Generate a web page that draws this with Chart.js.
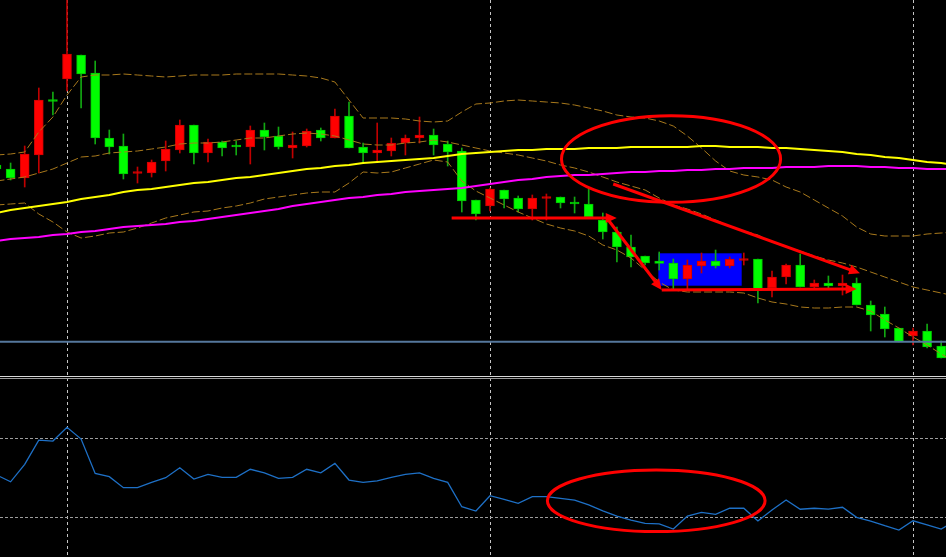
<!DOCTYPE html>
<html>
<head>
<meta charset="utf-8">
<script src="https://cdn.jsdelivr.net/npm/chart.js@4.4.0/dist/chart.umd.min.js"></script>
<style>
  html, body { margin: 0; padding: 0; background: #000; overflow: hidden; }
  canvas { display: block; }
</style>
</head>
<body>
<canvas id="chart" width="946" height="557"></canvas>
<script>
// bar numbers (0 = bar under the first vertical grid line)
const bars = [-5, -4, -3, -2, -1, 0, 1, 2, 3, 4, 5, 6, 7, 8, 9, 10, 11, 12, 13, 14,
  15, 16, 17, 18, 19, 20, 21, 22, 23, 24, 25, 26, 27, 28, 29, 30, 31, 32, 33, 34,
  35, 36, 37, 38, 39, 40, 41, 42, 43, 44, 45, 46, 47, 48, 49, 50, 51, 52, 53, 54,
  55, 56, 57, 58, 59, 60, 61, 62, 63];

// candles (bars -5 .. 62)
const opens = [1.2835, 1.2831, 1.2822, 1.2845, 1.28995, 1.2921, 1.2945, 1.2927, 1.2862, 1.2854,
  1.28265, 1.2827, 1.2839, 1.2850, 1.2875, 1.2847, 1.2858, 1.2854, 1.2853, 1.2870,
  1.2864, 1.2852, 1.2854, 1.2870, 1.2862, 1.2884, 1.2853, 1.2847, 1.2849, 1.2857,
  1.2862, 1.2865, 1.2856, 1.2849, 1.2800, 1.2794, 1.2810, 1.2802, 1.2791, 1.28015,
  1.2803, 1.27975, 1.2796, 1.2780, 1.2768, 1.2753, 1.2744, 1.2739, 1.2737, 1.2721,
  1.2734, 1.2739, 1.2734, 1.27395, 1.2741, 1.2712, 1.2723, 1.2735, 1.2713, 1.2717,
  1.2714, 1.2717, 1.2695, 1.2686, 1.2672, 1.2664, 1.2669, 1.2654];
const highs = [1.2838, 1.2837, 1.2854, 1.2912, 1.2908, 1.3005, 1.2945, 1.2939, 1.2870, 1.2866,
  1.2833, 1.2840, 1.2859, 1.2880, 1.2875, 1.2861, 1.2859, 1.2859, 1.2874, 1.2877,
  1.2873, 1.2868, 1.2871, 1.2872, 1.2891, 1.2898, 1.2857, 1.2877, 1.2862, 1.2865,
  1.2883, 1.2871, 1.2859, 1.2852, 1.2800, 1.2812, 1.2810, 1.2804, 1.2805, 1.2806,
  1.2803, 1.2803, 1.2811, 1.2787, 1.2773, 1.2765, 1.2744, 1.2748, 1.2741, 1.2740,
  1.2747, 1.2750, 1.2743, 1.2747, 1.2741, 1.2729, 1.2736, 1.2746, 1.2720, 1.2724,
  1.2725, 1.2722, 1.2699, 1.2693, 1.2672, 1.2672, 1.2676, 1.2659];
const lows = [1.2828, 1.2820, 1.2813, 1.2827, 1.2885, 1.2909, 1.2892, 1.2856, 1.2846, 1.2821,
  1.2817, 1.2823, 1.2829, 1.2847, 1.2836, 1.2838, 1.2844, 1.2845, 1.2836, 1.2850,
  1.2851, 1.2842, 1.2853, 1.2859, 1.2862, 1.2852, 1.2838, 1.2838, 1.2844, 1.2845,
  1.2857, 1.2845, 1.2834, 1.2788, 1.2780, 1.2789, 1.2792, 1.2788, 1.2780, 1.2780,
  1.2792, 1.2787, 1.2782, 1.2761, 1.2738, 1.2733, 1.2735, 1.2730, 1.2711, 1.2711,
  1.2727, 1.2732, 1.2732, 1.2735, 1.2697, 1.2703, 1.2716, 1.2713, 1.2712, 1.2712,
  1.2705, 1.2695, 1.2669, 1.2663, 1.2658, 1.2655, 1.2652, 1.2642];
const closes = [1.2831, 1.2822, 1.2846, 1.2900, 1.28985, 1.2946, 1.2926, 1.2862, 1.2853, 1.2826,
  1.28275, 1.2838, 1.2851, 1.2875, 1.2847, 1.2858, 1.2852, 1.2853, 1.2870, 1.2863,
  1.2853, 1.2855, 1.2869, 1.2862, 1.2884, 1.2852, 1.2847, 1.2850, 1.2857, 1.2862,
  1.2865, 1.2855, 1.2848, 1.2799, 1.2786, 1.2811, 1.2801, 1.2791, 1.2802, 1.28025,
  1.2797, 1.2796, 1.2783, 1.2768, 1.2753, 1.2743, 1.2737, 1.27365, 1.2721, 1.2735,
  1.2739, 1.2734, 1.2741, 1.27405, 1.2711, 1.2723, 1.2735, 1.2713, 1.2717, 1.2714,
  1.2717, 1.2695, 1.2685, 1.2671, 1.2658, 1.2669, 1.2653, 1.2642];

// bollinger bands (bars -5 .. 63)
const upperBand = [1.2845, 1.2846, 1.2848, 1.2868, 1.2883, 1.2905, 1.2923, 1.2925, 1.2925, 1.2926,
  1.2925, 1.2924, 1.2923, 1.2924, 1.2925, 1.2925, 1.2925, 1.2926, 1.2926, 1.2926,
  1.2926, 1.2925, 1.2924, 1.2922, 1.2918, 1.2900, 1.2882, 1.2882, 1.2882, 1.2881,
  1.2879, 1.2878, 1.2879, 1.2888, 1.2896, 1.2897, 1.2899, 1.2900, 1.2899, 1.2898,
  1.2897, 1.2895, 1.2892, 1.2889, 1.2885, 1.2883, 1.2882, 1.2879, 1.2874, 1.2864,
  1.2852, 1.2839, 1.2829, 1.2825, 1.2823, 1.2820, 1.2813, 1.2808, 1.2800, 1.2792,
  1.2784, 1.2773, 1.2766, 1.2764, 1.2764, 1.2764, 1.2766, 1.2767, 1.2768];
const middleBand = [1.2819, 1.2821, 1.2823, 1.2827, 1.2831, 1.2837, 1.2843, 1.2844, 1.2847, 1.2848,
  1.2849, 1.2851, 1.2853, 1.2856, 1.2857, 1.2857, 1.2858, 1.2860, 1.2862, 1.2862,
  1.2864, 1.2866, 1.2867, 1.2866, 1.2864, 1.2860, 1.2856, 1.2855, 1.2855, 1.2857,
  1.2858, 1.2860, 1.2858, 1.2855, 1.2852, 1.2849, 1.2847, 1.2845, 1.2842, 1.2839,
  1.2835, 1.2832, 1.2828, 1.2823, 1.2818, 1.2814, 1.2810, 1.2802, 1.2795, 1.2791,
  1.2786, 1.2780, 1.2774, 1.2769, 1.2765, 1.2758, 1.2753, 1.2749, 1.2744, 1.2740,
  1.2737, 1.2733, 1.2728, 1.2723, 1.2718, 1.2713, 1.2710, 1.2707, 1.2704];
const lowerBand = [1.2795, 1.2796, 1.2797, 1.2786, 1.2778, 1.2768, 1.2762, 1.2764, 1.2767, 1.2768,
  1.2772, 1.2777, 1.2782, 1.2785, 1.2788, 1.2789, 1.2792, 1.2794, 1.2797, 1.2801,
  1.2803, 1.2805, 1.2807, 1.2808, 1.2808, 1.2817, 1.2828, 1.2827, 1.2828, 1.2832,
  1.2836, 1.2840, 1.2838, 1.2819, 1.2809, 1.2802, 1.2795, 1.2788, 1.2782, 1.2776,
  1.2772, 1.2769, 1.2764, 1.2755, 1.2750, 1.2742, 1.2730, 1.2718, 1.2710, 1.2708,
  1.2708, 1.2708, 1.2708, 1.2707, 1.2702, 1.2698, 1.2696, 1.2693, 1.2692, 1.2692,
  1.2693, 1.2693, 1.2689, 1.2680, 1.2672, 1.2663, 1.2655, 1.2646, 1.2638];

// moving averages
const maYellow = [1.2787, 1.2790, 1.2792, 1.2794, 1.2796, 1.2798, 1.2801, 1.2803, 1.2805, 1.2808,
  1.2810, 1.2811, 1.2813, 1.2815, 1.2817, 1.2818, 1.2820, 1.2822, 1.2823, 1.2825,
  1.2827, 1.2829, 1.2831, 1.2832, 1.2834, 1.2835, 1.2837, 1.2838, 1.2839, 1.2840,
  1.2841, 1.2842, 1.2844, 1.2846, 1.2847, 1.2848, 1.2849, 1.2850, 1.2850, 1.2851,
  1.2851, 1.2851, 1.2852, 1.2852, 1.2852, 1.2853, 1.2853, 1.2853, 1.2853, 1.2853,
  1.2854, 1.2854, 1.2853, 1.2853, 1.2853, 1.2852, 1.2852, 1.2851, 1.2850, 1.2849,
  1.2848, 1.2846, 1.2845, 1.2843, 1.2842, 1.2840, 1.2838, 1.2837, 1.2835];
const maMagenta = [1.2759, 1.2761, 1.2762, 1.2763, 1.2765, 1.2766, 1.2768, 1.2769, 1.2771, 1.2773,
  1.2774, 1.2775, 1.2776, 1.2778, 1.2779, 1.2781, 1.2783, 1.2785, 1.2787, 1.2789,
  1.2791, 1.2794, 1.2796, 1.2798, 1.2800, 1.2802, 1.2803, 1.2805, 1.2806, 1.2808,
  1.2809, 1.2810, 1.2811, 1.2812, 1.2814, 1.2816, 1.2818, 1.2820, 1.2821, 1.2823,
  1.2824, 1.2825, 1.2825, 1.2826, 1.2827, 1.2828, 1.2828, 1.2829, 1.2829, 1.2830,
  1.2830, 1.2831, 1.2831, 1.2832, 1.2832, 1.2832, 1.2833, 1.2833, 1.2833, 1.2834,
  1.2834, 1.2834, 1.2833, 1.2833, 1.2832, 1.2832, 1.2831, 1.2831, 1.2831];

// oscillator in the lower window
const rsi = [51.3, 47.8, 56.7, 69.1, 68.6, 75.6, 69.6, 52.1, 50.4, 44.8,
  44.8, 47.5, 49.9, 55.0, 49.2, 51.6, 50.1, 50.1, 54.2, 52.4,
  49.6, 50.1, 54.2, 52.4, 57.2, 48.7, 47.5, 48.3, 50.1, 51.6,
  52.4, 49.6, 47.5, 35.1, 32.9, 40.7, 38.9, 36.8, 40.2, 40.2,
  39.4, 38.5, 36.0, 33.0, 30.3, 28.3, 26.6, 26.3, 23.7, 30.3,
  32.2, 31.2, 34.3, 34.3, 27.8, 33.4, 38.5, 33.8, 34.3, 33.9,
  34.8, 29.7, 27.8, 25.4, 23.2, 27.9, 25.8, 23.7, 27.8];
const rsiLevels = [70, 30];

const supportLevel = 1.26583;
const gridBars = [0, 30, 60];

// hand drawn objects, in bar / price units
const ovals = [
  { axis: 'y', x: 42.84, y: 1.2841, rx: 7.77, ry: 0.00433 },
  { axis: 'y2', x: 41.79, y: 38.1, rx: 7.72, ry: 15.7 }
];
const arrows = [
  [27.28, 1.2782, 38.99, 1.2782],
  [38.39, 1.2780, 42.18, 1.2710],
  [42.18, 1.2710, 56.00, 1.2711],
  [38.74, 1.2816, 56.24, 1.27267]
];
const boxes = [[41.94, 1.27467, 47.85, 1.27143]];

const candleBars = bars.slice(0, opens.length);
const isDown = i => closes[i] < opens[i];
const pts = vals => vals.map((v, i) => ({ x: bars[i], y: v }));

const bandColor = '#a8791c';
const panelSplit = 376;

const overlay = {
  id: 'overlay',
  beforeDatasetsDraw(chart) {
    const { ctx, chartArea, scales: { x, y, y2 } } = chart;
    ctx.save();
    // vertical grid
    ctx.lineWidth = 1;
    ctx.strokeStyle = '#c4c4c4';
    ctx.setLineDash([3, 3]);
    gridBars.forEach(b => {
      const px = Math.round(x.getPixelForValue(b)) + 0.5;
      ctx.beginPath();
      ctx.moveTo(px, chartArea.top);
      ctx.lineTo(px, chartArea.bottom);
      ctx.stroke();
    });
    // oscillator levels
    ctx.strokeStyle = '#9c9c9c';
    ctx.setLineDash([3, 2]);
    rsiLevels.forEach(v => {
      const py = Math.round(y2.getPixelForValue(v)) + 0.5;
      ctx.beginPath();
      ctx.moveTo(chartArea.left, py);
      ctx.lineTo(chartArea.right, py);
      ctx.stroke();
    });
    ctx.setLineDash([]);
    // filled rectangles behind candles
    ctx.fillStyle = '#0000ff';
    boxes.forEach(([x1, p1, x2, p2]) => {
      const l = x.getPixelForValue(x1), r = x.getPixelForValue(x2);
      const t = y.getPixelForValue(p1), b = y.getPixelForValue(p2);
      ctx.fillRect(l, t, r - l, b - t);
    });
    ctx.restore();
  },
  afterDatasetsDraw(chart) {
    const { ctx, chartArea, scales } = chart;
    const x = scales.x, y = scales.y;
    ctx.save();
    // window separator
    ctx.lineWidth = 1;
    ctx.strokeStyle = '#d8d8d8';
    ctx.beginPath();
    ctx.moveTo(chartArea.left, panelSplit + 0.5);
    ctx.lineTo(chartArea.right, panelSplit + 0.5);
    ctx.stroke();
    ctx.strokeStyle = '#9a9a9a';
    ctx.beginPath();
    ctx.moveTo(chartArea.left, panelSplit + 2.5);
    ctx.lineTo(chartArea.right, panelSplit + 2.5);
    ctx.stroke();

    ctx.strokeStyle = '#ff0000';
    ctx.fillStyle = '#ff0000';
    ctx.lineWidth = 3;
    ovals.forEach(o => {
      const s = scales[o.axis];
      const cx = x.getPixelForValue(o.x), cy = s.getPixelForValue(o.y);
      const rx = x.getPixelForValue(o.x + o.rx) - cx;
      const ry = s.getPixelForValue(o.y - o.ry) - cy;
      ctx.beginPath();
      ctx.ellipse(cx, cy, rx, ry, 0, 0, Math.PI * 2);
      ctx.stroke();
    });
    arrows.forEach(([x1, p1, x2, p2]) => {
      const ax = x.getPixelForValue(x1), ay = y.getPixelForValue(p1);
      const bx = x.getPixelForValue(x2), by = y.getPixelForValue(p2);
      const ang = Math.atan2(by - ay, bx - ax);
      const len = 11, half = 5;
      ctx.beginPath();
      ctx.moveTo(ax, ay);
      ctx.lineTo(bx - Math.cos(ang) * len * 0.6, by - Math.sin(ang) * len * 0.6);
      ctx.stroke();
      ctx.beginPath();
      ctx.moveTo(bx, by);
      ctx.lineTo(bx - Math.cos(ang) * len - Math.sin(ang) * half, by - Math.sin(ang) * len + Math.cos(ang) * half);
      ctx.lineTo(bx - Math.cos(ang) * len + Math.sin(ang) * half, by - Math.sin(ang) * len - Math.cos(ang) * half);
      ctx.closePath();
      ctx.fill();
    });
    ctx.restore();
  }
};

const lineSet = (vals, color, width, dash, order, axis) => ({
  type: 'line',
  data: pts(vals),
  borderColor: color,
  borderWidth: width,
  borderDash: dash || [],
  pointRadius: 0,
  tension: 0,
  yAxisID: axis || 'y',
  order: order
});

new Chart(document.getElementById('chart'), {
  type: 'bar',
  data: {
    datasets: [
      {
        label: 'wicks',
        data: candleBars.map((b, i) => ({ x: b, y: [lows[i], highs[i]] })),
        backgroundColor: candleBars.map((b, i) => isDown(i) ? '#12a812' : '#c00000'),
        barThickness: 1,
        grouped: false,
        order: 6
      },
      {
        label: 'bodies',
        data: candleBars.map((b, i) => ({ x: b, y: [opens[i], closes[i]] })),
        backgroundColor: candleBars.map((b, i) => isDown(i) ? '#00ff00' : '#ff0000'),
        borderColor: candleBars.map((b, i) => isDown(i) ? '#00c400' : '#cc0000'),
        borderWidth: 1,
        borderSkipped: false,
        barThickness: 9,
        minBarLength: 2,
        grouped: false,
        order: 5
      },
      lineSet(upperBand, bandColor, 1, [8, 3], 4),
      lineSet(middleBand, bandColor, 1, [8, 3], 4),
      lineSet(lowerBand, bandColor, 1, [8, 3], 4),
      lineSet(maMagenta, '#ff00ff', 2, null, 3),
      lineSet(maYellow, '#ffff00', 2, null, 2),
      {
        type: 'line',
        data: [{ x: bars[0], y: supportLevel }, { x: bars[bars.length - 1], y: supportLevel }],
        borderColor: '#55779c',
        borderWidth: 2,
        pointRadius: 0,
        yAxisID: 'y',
        order: 3
      },
      lineSet(rsi, '#1e70c6', 1.3, null, 1, 'y2')
    ]
  },
  options: {
    responsive: false,
    animation: false,
    events: [],
    layout: { padding: 0 },
    plugins: { legend: { display: false }, tooltip: { enabled: false } },
    scales: {
      x: { type: 'linear', min: -4.7518, max: 62.3404, offset: false, display: false },
      y: { type: 'linear', min: 1.2443, max: 1.3000, display: false },
      y2: { type: 'linear', min: 9.44, max: 293.6, display: false }
    }
  },
  plugins: [overlay]
});
</script>
</body>
</html>
